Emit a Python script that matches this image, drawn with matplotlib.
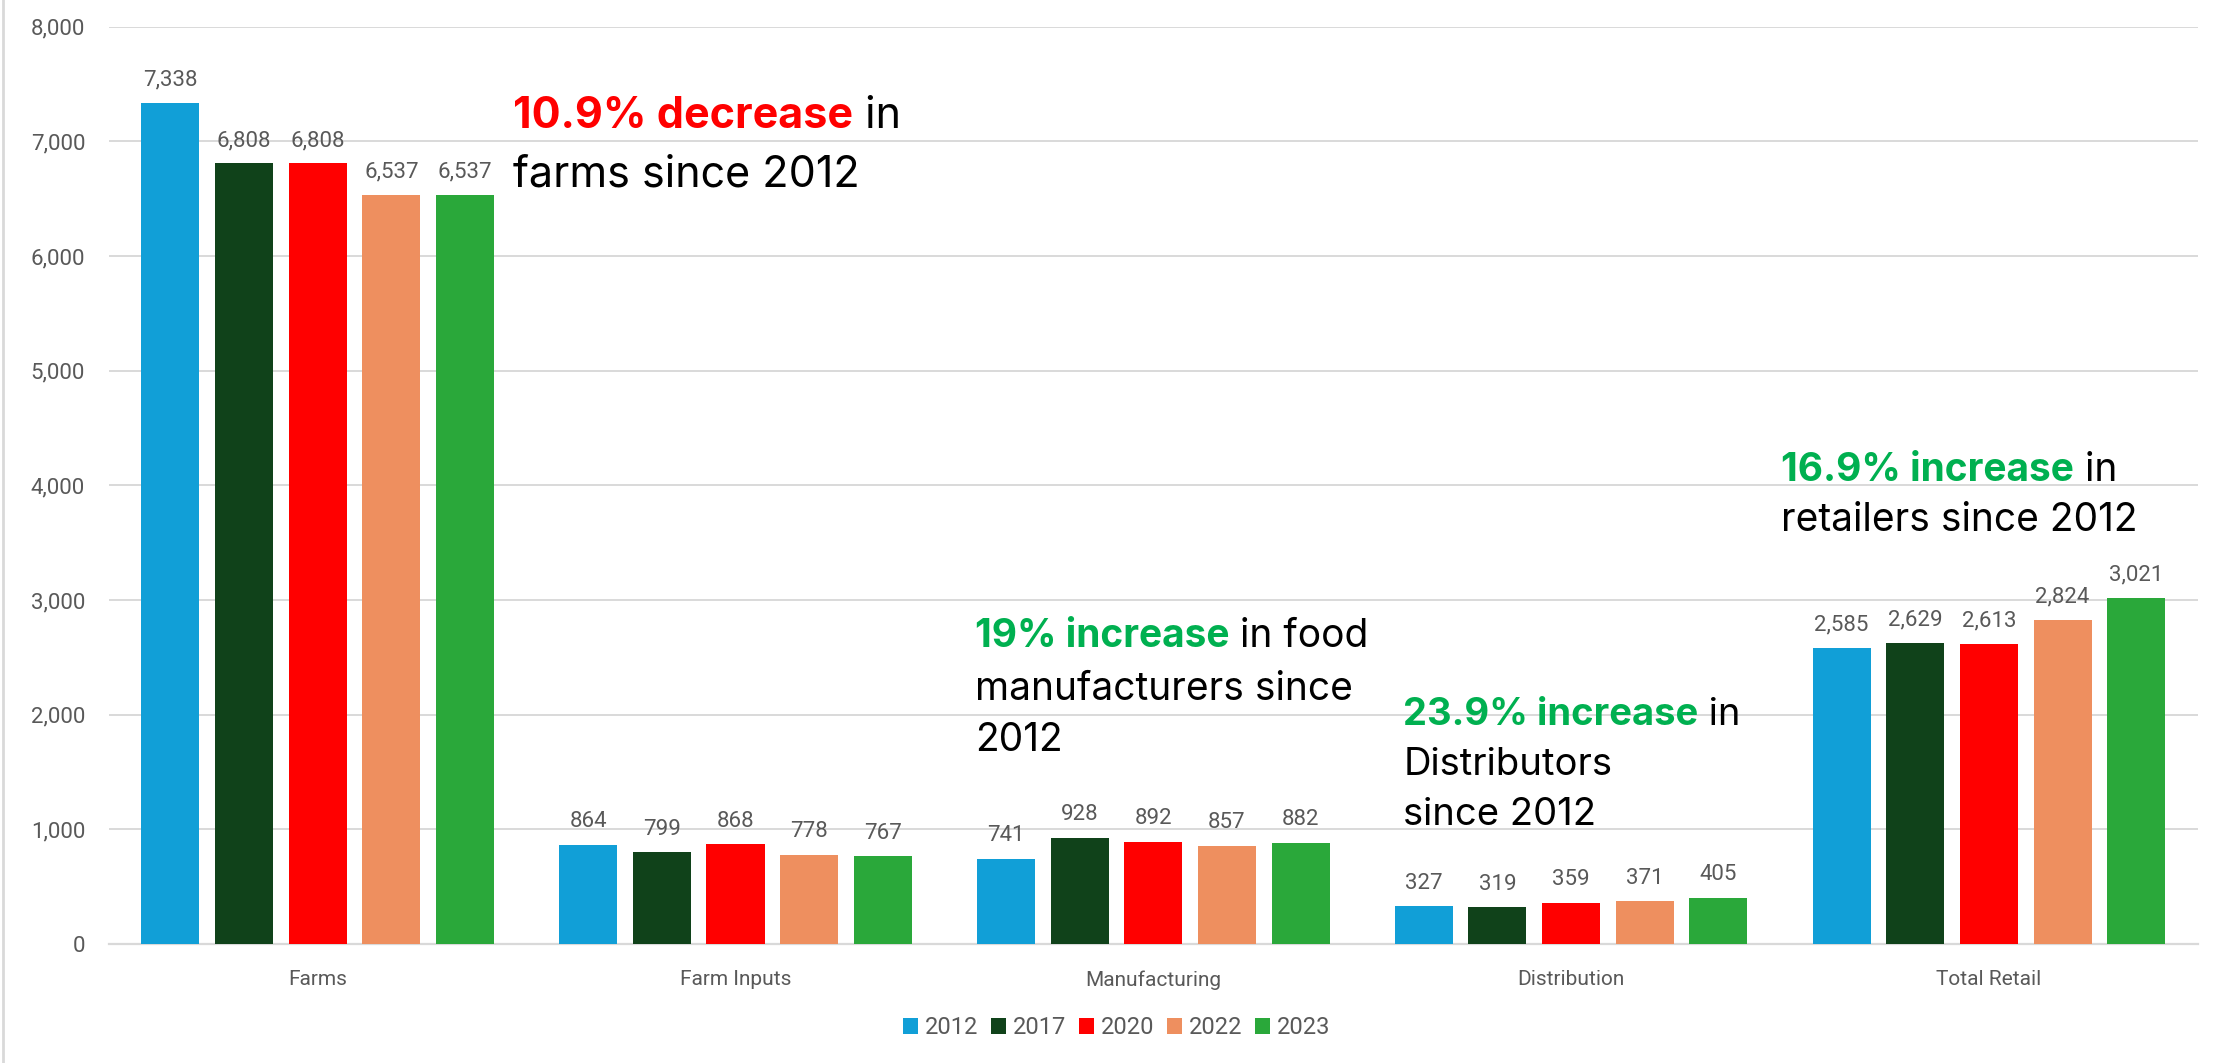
import matplotlib
matplotlib.use("Agg")
import matplotlib.pyplot as plt
import numpy as np
from matplotlib.lines import Line2D
from matplotlib.ticker import FuncFormatter, MultipleLocator

categories = ["Farms", "Farm Inputs", "Manufacturing", "Distribution", "Total Retail"]
years = ["2012", "2017", "2020", "2022", "2023"]
v2012 = [7338, 864, 741, 327, 2585]
v2017 = [6808, 799, 928, 319, 2629]
v2020 = [6808, 868, 892, 359, 2613]
v2022 = [6537, 778, 857, 371, 2824]
v2023 = [6537, 767, 882, 405, 3021]
series = [v2012, v2017, v2020, v2022, v2023]
colors = ["#119FD7", "#10421A", "#FF0000", "#EE8F5F", "#2AA83A"]

# annotations: (bold part, bold colour, rest of first line, following lines)
notes = [
    ("10.9% decrease", "#FF0000", " in", ["farms since 2012"]),
    ("19% increase", "#00B050", " in food", ["manufacturers since", "2012"]),
    ("23.9% increase", "#00B050", " in", ["Distributors", "since 2012"]),
    ("16.9% increase", "#00B050", " in", ["retailers since 2012"]),
]
note_x = [0.467, 1.573, 2.598, 3.503]
note_y = [[7220, 6710], [2680, 2220, 1775], [2000, 1560, 1125], [4130, 3690]]
note_fs = [31, 28, 27.5, 28]

GRAY = "#595959"
GRID = "#D9D9D9"
NUM_FONT = "Roboto"
NOTE_FONT = "Inter"

fig = plt.figure(figsize=(22.2, 10.63), dpi=100)
ax = fig.add_axes([0.049, 0.112, 0.941, 0.8628])

x = np.arange(len(categories))
width = 0.139
pitch = 0.1763
for i, (vals, col, yr) in enumerate(zip(series, colors, years)):
    pos = x + (i - 2) * pitch
    bars = ax.bar(pos, vals, width=width, color=col, label=yr, zorder=3)
    for b, v in zip(bars, vals):
        ax.annotate(f"{v:,}", xy=(b.get_x() + b.get_width() / 2, v),
                    xytext=(0, 9), textcoords="offset points",
                    ha="center", va="bottom", fontsize=16, color=GRAY,
                    family=NUM_FONT)

ax.set_xlim(-0.5, len(categories) - 0.5)
ax.set_ylim(0, 8000)
ax.yaxis.set_major_locator(MultipleLocator(1000))
ax.yaxis.set_major_formatter(FuncFormatter(lambda v, p: f"{int(v):,}"))
ax.set_xticks(x)
ax.set_xticklabels(categories)
for lab in ax.get_xticklabels():
    lab.set_family(NUM_FONT)
    lab.set_fontsize(15)
    lab.set_color(GRAY)
for lab in ax.get_yticklabels():
    lab.set_family(NUM_FONT)
    lab.set_fontsize(16)
    lab.set_color(GRAY)
ax.tick_params(axis="both", length=0)
ax.tick_params(axis="y", pad=17)
ax.tick_params(axis="x", pad=19)
ax.yaxis.grid(True, color=GRID, lw=1.4, zorder=0)
ax.set_axisbelow(True)
for s in ["top", "right", "left"]:
    ax.spines[s].set_visible(False)
ax.spines["bottom"].set_color(GRID)
ax.spines["bottom"].set_linewidth(1.6)

for (bold, bcol, rest, lines), nx, ny, fs in zip(notes, note_x, note_y, note_fs):
    t1 = ax.text(nx, ny[0], bold, color=bcol, fontweight="bold", fontsize=fs,
                 family=NOTE_FONT, ha="left", va="center", zorder=5)
    ax.annotate(rest, xy=(1, 0.5), xycoords=t1, ha="left", va="center",
                fontsize=fs, family=NOTE_FONT, color="black", zorder=5)
    for ln, yy in zip(lines, ny[1:]):
        ax.text(nx, yy, ln, color="black", fontsize=fs, family=NOTE_FONT,
                ha="left", va="center", zorder=5)

leg = fig.legend(loc="center", bbox_to_anchor=(0.503, 0.033), ncol=5,
                 frameon=False, handlelength=0.62, handleheight=0.62,
                 handletextpad=0.3, columnspacing=0.55,
                 prop={"family": NUM_FONT, "size": 17})
for t in leg.get_texts():
    t.set_color(GRAY)

fig.add_artist(Line2D([0.0012, 0.0012], [0, 1], transform=fig.transFigure,
                      color=GRID, lw=2))

fig.savefig("out.png", dpi=100)
